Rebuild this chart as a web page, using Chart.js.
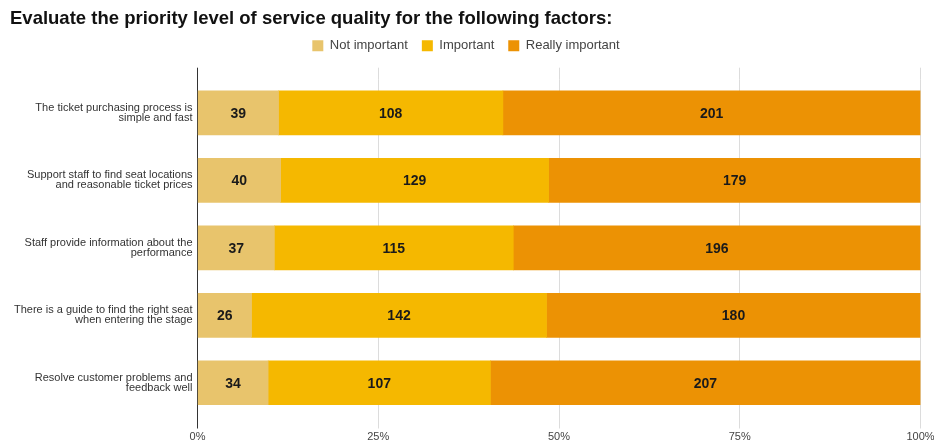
<!DOCTYPE html>
<html>
<head>
<meta charset="utf-8">
<title>Service quality priority</title>
<script src="https://cdn.jsdelivr.net/npm/chart.js@4.4.1/dist/chart.umd.min.js"></script>
<style>
  html, body { margin: 0; padding: 0; background: #fff; }
  #wrap { width: 934px; height: 446px; position: relative; }
</style>
</head>
<body>
<div id="wrap"><canvas id="priorityChart"></canvas></div>
<script>
// Survey answers per factor (number of respondents)
const categories = [
  ['The ticket purchasing process is', 'simple and fast'],
  ['Support staff to find seat locations', 'and reasonable ticket prices'],
  ['Staff provide information about the', 'performance'],
  ['There is a guide to find the right seat', 'when entering the stage'],
  ['Resolve customer problems and', 'feedback well']
];
const notImportant = [39, 40, 37, 26, 34];
const important = [108, 129, 115, 142, 107];
const reallyImportant = [201, 179, 196, 180, 207];
const xTicks = [0, 25, 50, 75, 100];

const FONT = '"Liberation Sans", Arial, Helvetica, sans-serif';
const GRID = '#dcdcdc';
const AXIS = '#333333';

const totals = categories.map((_, i) => notImportant[i] + important[i] + reallyImportant[i]);
const toPct = arr => arr.map((v, i) => v / totals[i] * 100);

function makeSet(label, counts, color) {
  return {
    label: label,
    data: toPct(counts),
    counts: counts,
    backgroundColor: color,
    borderWidth: 0,
    barThickness: 44
  };
}

// Count written in the middle of every segment
const segmentLabels = {
  id: 'segmentLabels',
  afterDatasetsDraw(chart) {
    const ctx = chart.ctx;
    ctx.save();
    ctx.font = 'bold 14px ' + FONT;
    ctx.fillStyle = '#1a1a1a';
    ctx.textAlign = 'center';
    ctx.textBaseline = 'middle';
    chart.data.datasets.forEach((ds, i) => {
      const meta = chart.getDatasetMeta(i);
      meta.data.forEach((bar, j) => {
        const cx = (bar.x + bar.base) / 2;
        ctx.fillText(String(ds.counts[j]), cx, bar.y + 1);
      });
    });
    ctx.restore();
  }
};

// Vertical grid lines run a little above the plot area
const gridCap = {
  id: 'gridCap',
  beforeDatasetsDraw(chart) {
    const ctx = chart.ctx;
    const x = chart.scales.x;
    const top = chart.chartArea.top;
    ctx.save();
    ctx.lineWidth = 1;
    xTicks.forEach(v => {
      const px = Math.round(x.getPixelForValue(v) - 0.5) + 0.5;
      ctx.strokeStyle = v === 0 ? AXIS : GRID;
      ctx.beginPath();
      ctx.moveTo(px, top - 11.5);
      ctx.lineTo(px, top);
      ctx.stroke();
    });
    ctx.restore();
  }
};

// Leave some room between the legend and the bars, and centre it on the page
const legendGap = {
  id: 'legendGap',
  beforeInit(chart) {
    const fit = chart.legend.fit;
    chart.legend.fit = function () {
      fit.call(this);
      this.height += 17;
    };
  },
  afterLayout(chart) {
    chart.legend.left -= 6;
    chart.legend.right -= 6;
  }
};

new Chart(document.getElementById('priorityChart'), {
  type: 'bar',
  data: {
    labels: categories,
    datasets: [
      makeSet('Not important', notImportant, '#e8c46c'),
      makeSet('Important', important, '#f5b800'),
      makeSet('Really important', reallyImportant, '#ec9204')
    ]
  },
  options: {
    indexAxis: 'y',
    responsive: true,
    maintainAspectRatio: false,
    animation: false,
    layout: { padding: { left: 10, right: 0, top: 0, bottom: 0 } },
    scales: {
      x: {
        stacked: true,
        min: 0,
        max: 100,
        afterBuildTicks(scale) {
          scale.ticks = xTicks.map(v => ({ value: v }));
        },
        afterFit(scale) {
          scale.height = 29.5;
          scale.paddingRight = 13.5;
        },
        grid: {
          color: ctx => (ctx.tick && ctx.tick.value === 0 ? AXIS : GRID),
          tickColor: ctx => (ctx.tick && ctx.tick.value === 0 ? AXIS : GRID),
          tickLength: 12,
          drawTicks: true
        },
        border: { display: false },
        ticks: {
          padding: 2,
          color: '#444',
          font: { family: FONT, size: 11 },
          callback: v => v + '%'
        }
      },
      y: {
        stacked: true,
        afterFit(scale) { scale.width = 187.5; },
        grid: { display: false, drawTicks: false },
        border: { display: true, color: AXIS, width: 1 },
        ticks: {
          padding: 5,
          color: '#333',
          font: { family: FONT, size: 11, lineHeight: 0.9 }
        }
      }
    },
    plugins: {
      title: {
        display: true,
        text: 'Evaluate the priority level of service quality for the following factors:',
        align: 'start',
        color: '#111',
        font: { family: FONT, size: 18.5, weight: 'bold' },
        padding: { top: 8, bottom: -5 }
      },
      legend: {
        position: 'top',
        labels: {
          boxWidth: 11,
          boxHeight: 11,
          padding: 14,
          color: '#444',
          font: { family: FONT, size: 13 }
        }
      },
      tooltip: { enabled: false }
    }
  },
  plugins: [segmentLabels, gridCap, legendGap]
});
</script>
</body>
</html>
